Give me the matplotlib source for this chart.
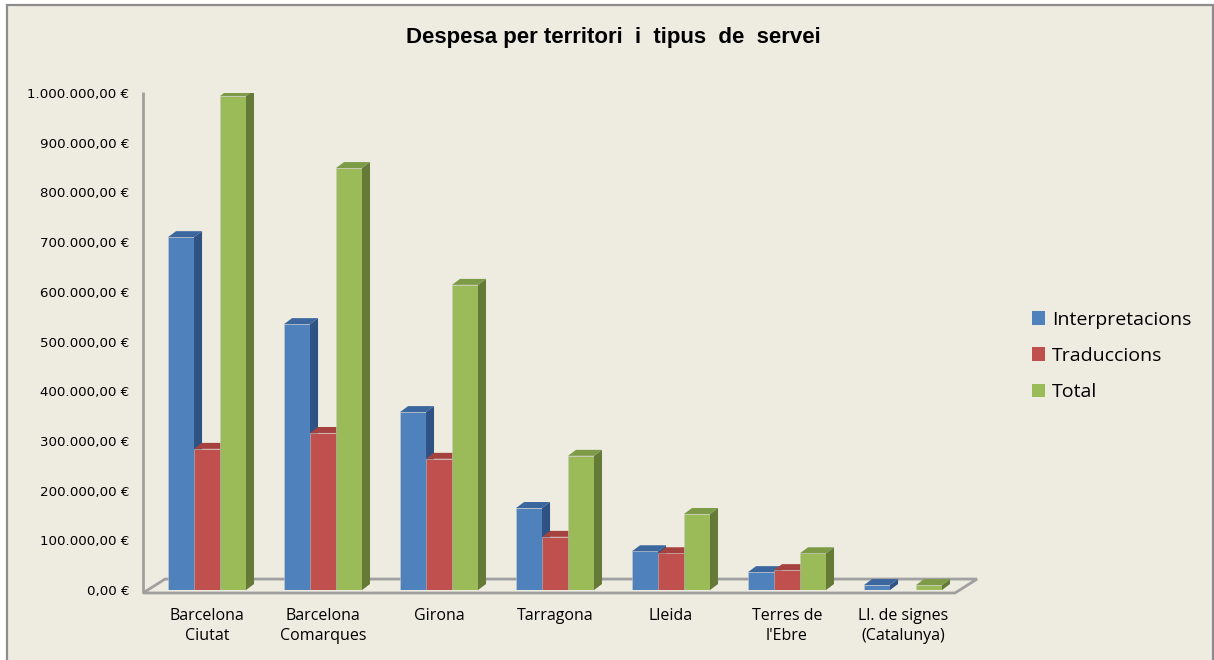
import matplotlib
matplotlib.use("Agg")
import matplotlib.pyplot as plt
from matplotlib.patches import Polygon, Rectangle, Patch
from matplotlib.ticker import FuncFormatter
import numpy as np

categories = ["Barcelona\nCiutat", "Barcelona\nComarques", "Girona", "Tarragona",
              "Lleida", "Terres de\nl'Ebre", "Ll. de signes\n(Catalunya)"]
series_names = ["Interpretacions", "Traduccions", "Total"]
interpretacions = [710000, 535000, 358000, 165000, 78000, 36000, 10000]
traduccions = [284000, 316000, 264000, 107000, 74000, 40000, 0]
total = [994000, 849000, 614000, 270000, 153000, 74000, 10000]
yticks = [0, 100000, 200000, 300000, 400000, 500000, 600000, 700000, 800000, 900000, 1000000]

series = [interpretacions, traduccions, total]
front_cols = ["#4F81BD", "#C0504D", "#9BBB59"]
side_cols = ["#2E5283", "#8C3A37", "#667A37"]
top_cols = ["#3C679E", "#A5413E", "#7D9A46"]

BG = "#EEECE1"
W, H = 1214, 660
fig = plt.figure(figsize=(W / 100, H / 100), dpi=100, facecolor="white")
fig.patches.append(Rectangle((7 / W, -0.01), (1213 - 7) / W, (H - 5) / H + 0.01,
                             transform=fig.transFigure, facecolor=BG,
                             edgecolor="#8C8C8C", lw=1.6, zorder=-10))

ax = fig.add_axes([143 / W, (H - 590) / H, (955 - 143) / W, (590 - 93) / H])
ax.set_facecolor("none")
ax.set_zorder(1)
for s in ax.spines.values():
    s.set_visible(False)

x = np.arange(len(categories))
bw = 0.224
dx = 0.069
dy = 12000
offsets = [-bw, 0, bw]

for gi in range(len(categories)):
    for si, vals in enumerate(series):
        v = vals[gi]
        if v <= 0:
            continue
        xl = x[gi] + offsets[si] - bw / 2
        xr = xl + bw
        z = 3 + si
        ax.bar(xl, v, width=bw, align="edge", color=front_cols[si],
               edgecolor="#C8C8C8", lw=0.4, zorder=z)
        ax.add_patch(Polygon([(xr, 0), (xr + dx, dy), (xr + dx, v + dy), (xr, v)],
                             closed=True, facecolor=side_cols[si], edgecolor="none", zorder=z))
        ax.add_patch(Polygon([(xl, v), (xr, v), (xr + dx, v + dy), (xl + dx, v + dy)],
                             closed=True, facecolor=top_cols[si], edgecolor="none", zorder=z))

xmin, xmax = -0.552, 6.448
ax.set_xlim(xmin, xmax)
ax.set_ylim(0, 1000000)

# floor and wall edge
fy0, fy1, fdx = -6000, 22000, 0.19
ax.add_patch(Polygon([(xmin, fy0), (xmax, fy0), (xmax + fdx, fy1), (xmin + fdx, fy1)],
                     closed=True, facecolor="none", edgecolor="#A0A0A0", lw=2.0,
                     zorder=2, clip_on=False))
ax.plot([xmin, xmin], [fy0, 1002000], color="#A0A0A0", lw=2.0, zorder=2, clip_on=False,
        solid_capstyle="butt")

ax.set_yticks(yticks)
ax.yaxis.set_major_formatter(FuncFormatter(
    lambda v, p: ("{:,.2f}".format(v).replace(",", "X").replace(".", ",").replace("X", ".")) + " €"))
ax.tick_params(axis="y", length=0, pad=10, labelsize=9.6, colors="black")
for lab in ax.get_yticklabels():
    lab.set_family("DejaVu Sans")

ax.set_xticks(x)
ax.set_xticklabels(categories, family="Open Sans", fontsize=11.5, linespacing=1.3)
ax.tick_params(axis="x", length=0, pad=13)

fig.text(613 / W, 1 - 37 / H, "Despesa per territori  i  tipus  de  servei",
         ha="center", va="center", fontsize=16, fontweight="bold",
         family="Liberation Sans")

handles = [Patch(facecolor=c, edgecolor="none") for c in front_cols]
fig.legend(handles, series_names, loc="center left",
           bbox_to_anchor=(1014 / W, 1 - 356 / H), frameon=False,
           prop={"family": "Open Sans", "size": 14}, handlelength=0.7, handleheight=0.7,
           handletextpad=0.35, labelspacing=0.95)

fig.savefig("out.png", dpi=100, facecolor="white")
